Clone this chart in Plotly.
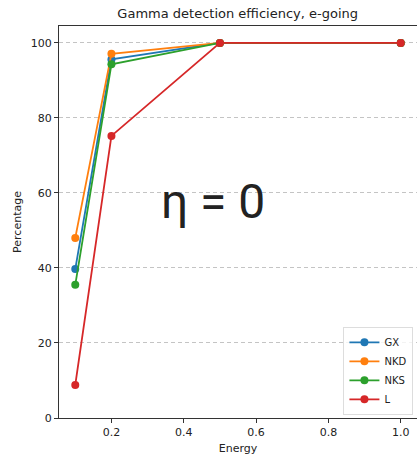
import plotly.graph_objects as go

energy = [0.1, 0.2, 0.5, 1.0]
gx = [39.7, 95.6, 100, 100]
nkd = [48.0, 97.1, 100, 100]
nks = [35.5, 94.3, 100, 100]
l_vals = [8.8, 75.2, 100, 100]
names = ["GX", "NKD", "NKS", "L"]
colors = ["#1f77b4", "#ff7f0e", "#2ca02c", "#d62728"]
series = [gx, nkd, nks, l_vals]
x_ticks = [0.2, 0.4, 0.6, 0.8, 1.0]
y_ticks = [0, 20, 40, 60, 80, 100]

fig = go.Figure()
for name, vals, c in zip(names, series, colors):
    fig.add_trace(go.Scatter(x=energy, y=vals, mode="lines+markers", name=name,
                             line=dict(color=c, width=1.8),
                             marker=dict(color=c, size=8)))

font = "DejaVu Sans"
fig.update_layout(
    width=417, height=457,
    margin=dict(l=59, r=0, t=26, b=39),
    paper_bgcolor="white", plot_bgcolor="white",
    font=dict(family=font, size=11, color="#222"),
    title=dict(text="Gamma detection efficiency, e-going", x=0.57, xanchor="center",
               y=1 - 13 / 457, yanchor="middle", font=dict(size=13, color="#222")),
    showlegend=True,
    legend=dict(x=0.99, y=0.008, xanchor="right", yanchor="bottom",
                bgcolor="rgba(255,255,255,0.8)", bordercolor="#ddd", borderwidth=1,
                font=dict(size=10), itemwidth=30, tracegroupgap=0),
    annotations=[dict(text="η = 0", x=0.43, y=0.553, xref="paper", yref="paper",
                      showarrow=False, font=dict(size=48, color="#222", family="Roboto"))],
)
fig.update_xaxes(range=[0.055, 1.045], tickvals=x_ticks, ticktext=["0.2", "0.4", "0.6", "0.8", "1.0"],
                 showgrid=False, showline=True, linecolor="#333", linewidth=1, mirror=True,
                 ticks="outside", ticklen=4, tickcolor="#333", zeroline=False,
                 title=dict(text="Energy", font=dict(size=11), standoff=6))
fig.update_yaxes(range=[0, 104.5], tickvals=y_ticks,
                 showgrid=True, gridcolor="#c4c4c4", griddash="4px,3px", gridwidth=1,
                 showline=True, linecolor="#333", linewidth=1, mirror=True,
                 ticks="outside", ticklen=4, tickcolor="#333", zeroline=False,
                 title=dict(text="Percentage", font=dict(size=11), standoff=6))
fig.write_html("out.html")
